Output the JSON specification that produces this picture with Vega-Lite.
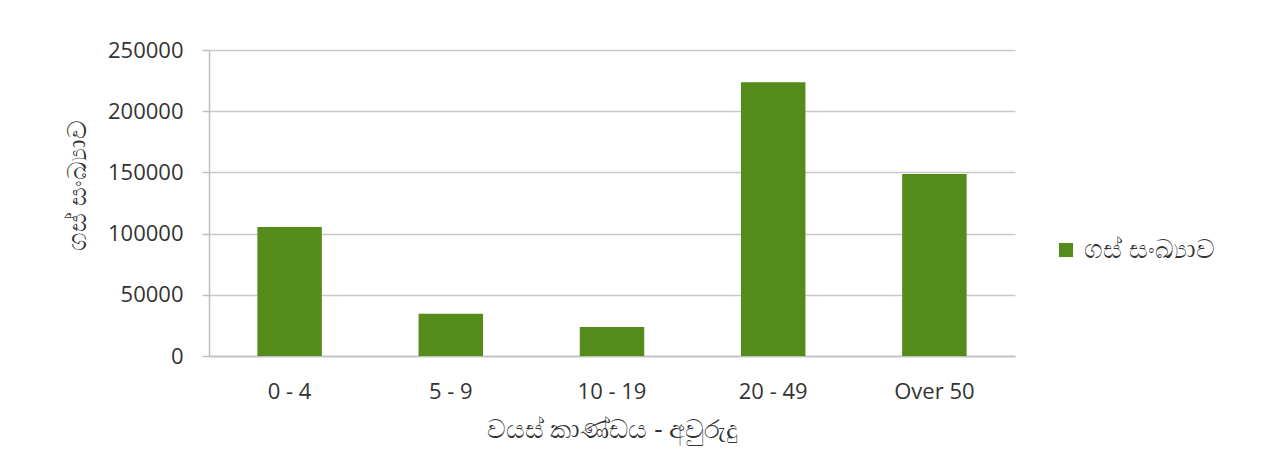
{
  "$schema": "https://vega.github.io/schema/vega-lite/v6.json",
  "width": 806,
  "height": 306,
  "autosize": {"type": "none"},
  "padding": {"left": 209, "top": 50, "right": 250, "bottom": 94},
  "background": "white",
  "data": {
    "values": [
      {"age": "0 - 4", "trees": 105300, "series": "ගස් සංඛ්‍යාව"},
      {"age": "5 - 9", "trees": 34500, "series": "ගස් සංඛ්‍යාව"},
      {"age": "10 - 19", "trees": 23700, "series": "ගස් සංඛ්‍යාව"},
      {"age": "20 - 49", "trees": 223600, "series": "ගස් සංඛ්‍යාව"},
      {"age": "Over 50", "trees": 148600, "series": "ගස් සංඛ්‍යාව"}
    ]
  },
  "mark": {"type": "bar", "color": "#548b1a"},
  "encoding": {
    "x": {
      "field": "age",
      "type": "nominal",
      "sort": null,
      "scale": {"paddingInner": 0.6, "paddingOuter": 0.3},
      "axis": {
        "title": "වයස් කාණ්ඩය - අවුරුදු",
        "labelAngle": 0,
        "ticks": false,
        "labelPadding": 25,
        "labelFont": "Open Sans",
        "labelFontSize": 22,
        "labelColor": "#333333",
        "domainColor": "#bfbfbf",
        "domainWidth": 1.5,
        "titleFont": "Noto Sans",
        "titleFontSize": 26,
        "titleFontWeight": "normal",
        "titleColor": "#333333",
        "titlePadding": 14
      }
    },
    "y": {
      "field": "trees",
      "type": "quantitative",
      "scale": {"domain": [0, 250000]},
      "axis": {
        "title": "ගස් සංඛ්‍යාව",
        "values": [0, 50000, 100000, 150000, 200000, 250000],
        "format": "d",
        "tickSize": 7,
        "tickColor": "#bfbfbf",
        "tickWidth": 1.5,
        "labelPadding": 19,
        "labelFont": "Open Sans",
        "labelFontSize": 22,
        "labelColor": "#333333",
        "domainColor": "#bfbfbf",
        "domainWidth": 1.5,
        "gridColor": "#c8c8c8",
        "gridWidth": 1.5,
        "titleFont": "Noto Sans",
        "titleFontSize": 26,
        "titleFontWeight": "normal",
        "titleColor": "#333333",
        "titleX": -132,
        "titleY": 135,
        "titleAngle": -90,
        "titleAlign": "center",
        "titleBaseline": "middle"
      }
    },
    "fill": {
      "field": "series",
      "type": "nominal",
      "scale": {"range": ["#548b1a"]},
      "legend": {
        "title": null,
        "orient": "none",
        "legendX": 844,
        "legendY": 187,
        "padding": 0,
        "labelOffset": 5,
        "symbolType": "square",
        "symbolSize": 200,
        "symbolStrokeWidth": 0,
        "labelFont": "Noto Sans",
        "labelFontSize": 26,
        "labelColor": "#333333"
      }
    }
  },
  "config": {"view": {"stroke": null}}
}
